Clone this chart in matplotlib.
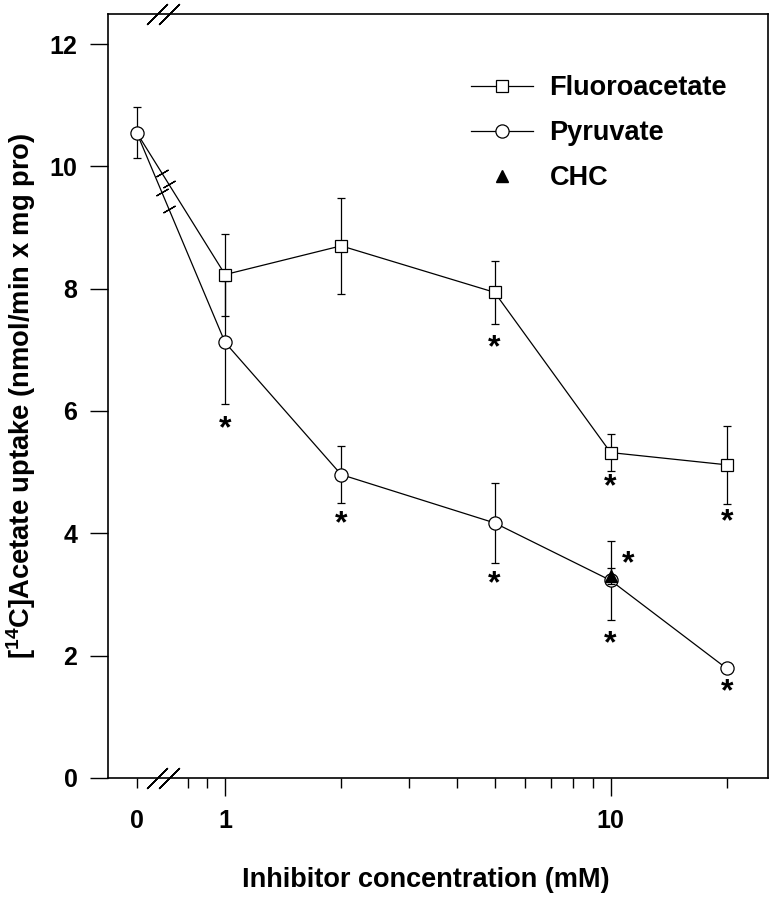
import numpy as np
import matplotlib
matplotlib.use("Agg")
import matplotlib.pyplot as plt
from matplotlib.lines import Line2D

plt.rcParams["font.family"] = ["Liberation Sans", "DejaVu Sans"]
plt.rcParams["font.weight"] = "bold"
plt.rcParams["mathtext.fontset"] = "custom"
plt.rcParams["mathtext.rm"] = "Liberation Sans:bold"
plt.rcParams["mathtext.bf"] = "Liberation Sans:bold"

# control (0 mM) shared by both series, plotted at a stand-in log position
zero_pos = 0.59
control_mean = 10.55
control_err = 0.42

conc = [1, 2, 5, 10, 20]
fluoro_mean = [8.23, 8.70, 7.94, 5.32, 5.12]
fluoro_err = [0.67, 0.79, 0.51, 0.30, 0.64]
pyruvate_mean = [7.12, 4.96, 4.17, 3.23, 1.79]
pyruvate_err = [1.01, 0.47, 0.66, 0.65, 0.05]
chc_conc = [10]
chc_mean = [3.30]
chc_err = [0.13]

# significance asterisks (x, y)
star_x = [1, 2, 5, 5, 10, 10, 11.1, 20, 20]
star_y = [5.70, 4.15, 7.02, 3.17, 4.75, 2.18, 3.49, 4.18, 1.40]

xticks_major = [zero_pos, 1, 10]
xticklabels = ["0", "1", "10"]
xticks_minor = [0.8, 0.9, 2, 3, 4, 5, 6, 7, 8, 9, 20]

fig = plt.figure(figsize=(7.75, 9), dpi=100)
ax = fig.add_axes([0.1394, 0.1356, 0.8516, 0.8488])
ax.set_xscale("log")
ax.set_xlim(0.497, 25.6)
ax.set_ylim(0, 12.49)

lw = 0.9
# break segments from control to 1 mM
for m in (fluoro_mean[0], pyruvate_mean[0]):
    ax.plot([zero_pos, 1], [control_mean, m], color="black", lw=lw, zorder=2)
    for xb in (0.685, 0.715):
        t = (np.log10(xb) - np.log10(zero_pos)) / (0 - np.log10(zero_pos))
        yb = control_mean + t * (m - control_mean)
        ax.plot([xb], [yb], marker=(2, 2, -60), ms=10, mew=0.9,
                color="black", zorder=3)

ax.errorbar(conc, fluoro_mean, yerr=fluoro_err, fmt="s-", color="black",
            mfc="white", mec="black", ms=8.5, mew=0.9, lw=lw,
            elinewidth=0.9, capsize=3, capthick=0.9, zorder=4)
ax.errorbar(conc, pyruvate_mean, yerr=pyruvate_err, fmt="o-", color="black",
            mfc="white", mec="black", ms=9.5, mew=0.9, lw=lw,
            elinewidth=0.9, capsize=3, capthick=0.9, zorder=4)
ax.errorbar([zero_pos], [control_mean], yerr=[control_err], fmt="o",
            color="black", mfc="white", mec="black", ms=9.5, mew=0.9,
            elinewidth=0.9, capsize=3, capthick=0.9, zorder=5)
ax.errorbar(chc_conc, chc_mean, yerr=chc_err, fmt="^", color="black",
            ms=8.5, elinewidth=0.9, capsize=3, capthick=0.9, zorder=6)

for sx, sy in zip(star_x, star_y):
    ax.text(sx, sy, "*", ha="center", va="center", fontsize=23,
            fontweight="bold")

# axis break marks on the top and bottom spines
for xb in (0.666, 0.715):
    for yb in (0, 1):
        ax.plot([xb], [yb], transform=ax.get_xaxis_transform(),
                marker=(2, 2, -45), ms=21, mew=1.0, color="black",
                clip_on=False, zorder=7)

ax.set_xticks(xticks_major)
ax.set_xticklabels(xticklabels)
ax.set_xticks(xticks_minor, minor=True)
ax.xaxis.set_minor_formatter(matplotlib.ticker.NullFormatter())
ax.set_yticks(np.arange(0, 13, 2))
ax.tick_params(axis="both", which="major", direction="out", length=13,
               width=1.0, labelsize=18, pad=9)
ax.tick_params(axis="x", which="minor", direction="out", length=7,
               width=1.0)
# 0 tick is short like the minor ones
ax.xaxis.get_major_ticks()[0].tick1line.set_markersize(7)
for s in ax.spines.values():
    s.set_linewidth(1.2)

ax.set_xlabel("Inhibitor concentration (mM)", fontsize=19.5,
              fontweight="bold")
ax.xaxis.set_label_coords(0.482, -0.117)
ax.set_ylabel(r"[$^{14}$C]Acetate uptake (nmol/min x mg pro)", fontsize=19.7,
              fontweight="bold", labelpad=8)

handles = [
    Line2D([], [], color="black", lw=lw, marker="s", mfc="white", ms=8.5,
           mew=0.9),
    Line2D([], [], color="black", lw=lw, marker="o", mfc="white", ms=9.5,
           mew=0.9),
    Line2D([], [], color="black", lw=0, marker="^", ms=8.5),
]
ax.legend(handles, ["Fluoroacetate", "Pyruvate", "CHC"], loc="upper left",
          bbox_to_anchor=(0.55, 0.92), frameon=False, fontsize=19.5,
          handlelength=2.3, handletextpad=0.6, labelspacing=0.7,
          borderpad=0, borderaxespad=0)

fig.savefig("out.png", dpi=100)
